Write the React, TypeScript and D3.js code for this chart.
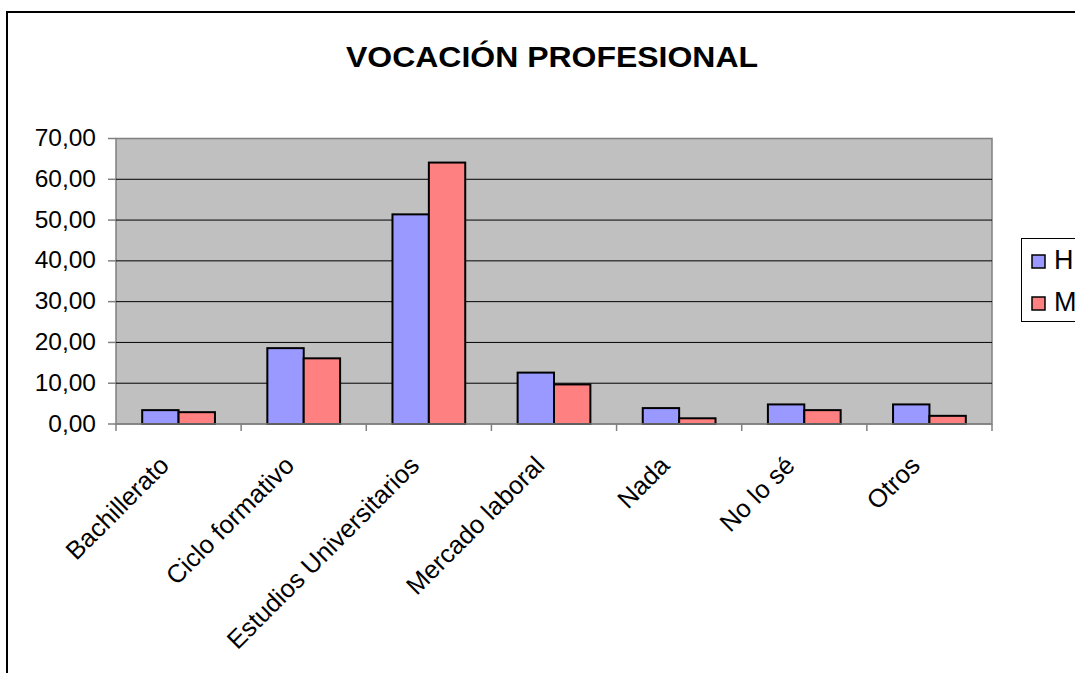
import React from "react";
import * as d3 from "d3";

const categories = ["Bachillerato", "Ciclo formativo", "Estudios Universitarios", "Mercado laboral", "Nada", "No lo sé", "Otros"];
const seriesNames = ["H", "M"];
const valuesH = [3.4, 18.6, 51.4, 12.6, 3.9, 4.8, 4.8];
const valuesM = [2.9, 16.1, 64.1, 9.7, 1.4, 3.4, 2.0];
const yTicks = [0, 10, 20, 30, 40, 50, 60, 70];
const colors = ["#9999FF", "#FF8080"];

const W = 1075, H = 673;
const plot = { left: 116, top: 138.5, right: 992, bottom: 424 };
const FONT = "'Liberation Sans', Arial, sans-serif";

export default function App() {
  const x = d3.scaleBand<string>().domain(categories).range([plot.left, plot.right]);
  const x1 = d3.scaleBand<string>().domain(seriesNames).range([0, x.bandwidth()]).paddingOuter(0.72).paddingInner(0);
  const y = d3.scaleLinear().domain([0, 70]).range([plot.bottom, plot.top]);
  const fmt = (v: number) => d3.format(".2f")(v).replace(".", ",");
  const series = [valuesH, valuesM];

  return (
    <svg width={W} height={H} style={{ position: "absolute", left: 0, top: 0, background: "#fff" }} fontFamily={FONT}>
      <rect x={7} y={12} width={W + 20} height={H + 20} fill="#fff" stroke="#000" strokeWidth={2} />
      <text x={552} y={67} textAnchor="middle" fontSize={29} fontWeight="bold" textLength={412} lengthAdjust="spacingAndGlyphs">VOCACIÓN PROFESIONAL</text>
      <rect x={plot.left} y={plot.top} width={plot.right - plot.left} height={plot.bottom - plot.top} fill="#C0C0C0" stroke="#808080" strokeWidth={1.5} />
      {yTicks.filter(t => t > 0 && t < 70).map(t => (
        <line key={"g" + t} x1={plot.left} x2={plot.right} y1={y(t)} y2={y(t)} stroke="#000" strokeWidth={1} />
      ))}
      {yTicks.map(t => (
        <g key={"t" + t}>
          <line x1={plot.left - 8} x2={plot.left} y1={y(t)} y2={y(t)} stroke="#808080" strokeWidth={1.5} />
          <text x={plot.left - 20} y={y(t) - 1} dy="0.35em" textAnchor="end" fontSize={24.5}>{fmt(t)}</text>
        </g>
      ))}
      {categories.map((c, i) => (
        <g key={c}>
          {series.map((vals, s) => (
            <rect key={s} x={(x(c) as number) + (x1(seriesNames[s]) as number)} y={y(vals[i])}
              width={x1.bandwidth()} height={y(0) - y(vals[i])} fill={colors[s]} stroke="#000" strokeWidth={2} />
          ))}
        </g>
      ))}
      <line x1={plot.left} x2={plot.right} y1={plot.bottom} y2={plot.bottom} stroke="#808080" strokeWidth={1.5} />
      {d3.range(categories.length + 1).map(i => {
        const xx = plot.left + i * x.step();
        return <line key={"xt" + i} x1={xx} x2={xx} y1={plot.bottom} y2={plot.bottom + 7} stroke="#808080" strokeWidth={1.5} />;
      })}
      {categories.map(c => {
        const cx = (x(c) as number) + x.bandwidth() / 2 - 8;
        const cy = plot.bottom + 43;
        return (
          <text key={"l" + c} x={cx} y={cy} textAnchor="end" fontSize={25.5} transform={`rotate(-45 ${cx} ${cy})`}>{c}</text>
        );
      })}
      <rect x={1021.5} y={238.5} width={80} height={83} fill="#fff" stroke="#000" strokeWidth={1} />
      {seriesNames.map((n, i) => (
        <g key={n}>
          <rect x={1032} y={255 + i * 42} width={13} height={13} fill={colors[i]} stroke="#000" strokeWidth={1.5} />
          <text x={1054} y={268.5 + i * 42} fontSize={27}>{n}</text>
        </g>
      ))}
    </svg>
  );
}
